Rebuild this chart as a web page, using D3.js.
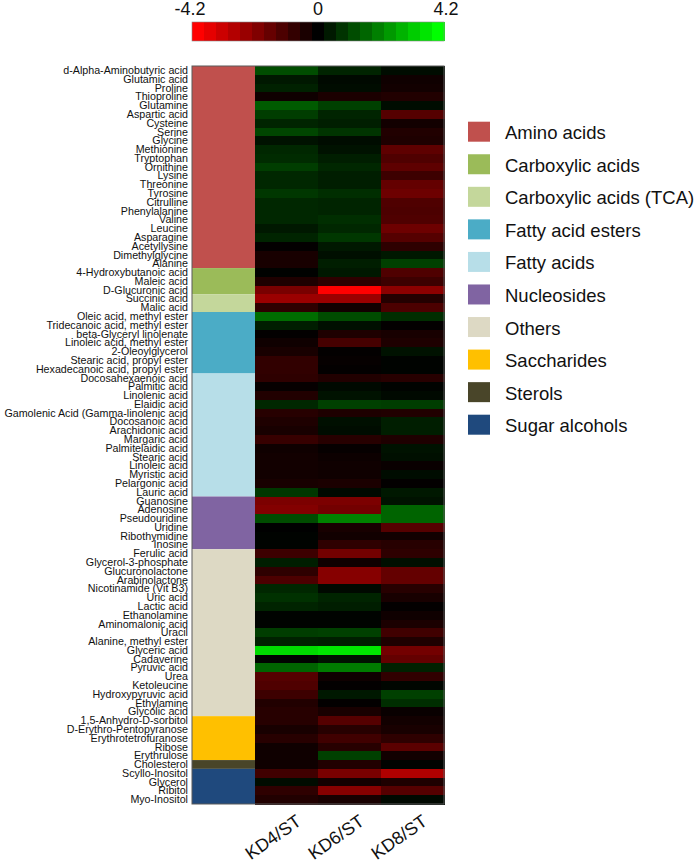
<!DOCTYPE html>
<html>
<head>
<meta charset="utf-8">
<script src="https://cdn.jsdelivr.net/npm/d3@7/dist/d3.min.js"></script>
<style>
  html, body { margin: 0; padding: 0; background: #fff; }
  svg { display: block; }
  text { font-family: "Liberation Sans", Arial, Helvetica, sans-serif; fill: #111; }
</style>
</head>
<body>
<svg id="chart" width="697" height="863"></svg>
<script>
// ---------------- data ----------------
const metabolites = [
  "d-Alpha-Aminobutyric acid","Glutamic acid","Proline","Thioproline","Glutamine","Aspartic acid",
  "Cysteine","Serine","Glycine","Methionine","Tryptophan","Ornithine","Lysine","Threonine","Tyrosine",
  "Citrulline","Phenylalanine","Valine","Leucine","Asparagine","Acetyllysine","Dimethylglycine","Alanine",
  "4-Hydroxybutanoic acid","Maleic acid","D-Glucuronic acid",
  "Succinic acid","Malic acid",
  "Oleic acid, methyl ester","Tridecanoic acid, methyl ester","beta-Glyceryl linolenate",
  "Linoleic acid, methyl ester","2-Oleoylglycerol","Stearic acid, propyl ester","Hexadecanoic acid, propyl ester",
  "Docosahexaenoic acid","Palmitic acid","Linolenic acid","Elaidic acid","Gamolenic Acid (Gamma-linolenic acid",
  "Docosanoic acid","Arachidonic acid","Margaric acid","Palmitelaidic acid","Stearic acid","Linoleic acid",
  "Myristic acid","Pelargonic acid","Lauric acid",
  "Guanosine","Adenosine","Pseudouridine","Uridine","Ribothymidine","Inosine",
  "Ferulic acid","Glycerol-3-phosphate","Glucuronolactone","Arabinolactone","Nicotinamide (Vit B3)",
  "Uric acid","Lactic acid","Ethanolamine","Aminomalonic acid","Uracil","Alanine, methyl ester",
  "Glyceric acid","Cadaverine","Pyruvic acid","Urea","Ketoleucine","Hydroxypyruvic acid","Ethylamine","Glycolic acid",
  "1,5-Anhydro-D-sorbitol","D-Erythro-Pentopyranose","Erythrotetrofuranose","Ribose","Erythrulose",
  "Cholesterol",
  "Scyllo-Inositol","Glycerol","Ribitol","Myo-Inositol"
];
const classNames = ["Amino acids","Carboxylic acids","Carboxylic acids (TCA)","Fatty acid esters","Fatty acids",
  "Nucleosides","Others","Saccharides","Sterols","Sugar alcohols"];
const classCounts = [23, 3, 2, 7, 14, 6, 19, 5, 1, 4];
const classColors = ["#C0504D","#9BBB59","#C4D79B","#4BACC6","#B7DEE8","#8064A2","#DDD9C4","#FFC000","#494529","#1F497D"];

const seriesNames = ["KD4/ST","KD6/ST","KD8/ST"];
const kd4 = [1.26,0.4,0.55,-0.25,1.5,1.0,0.6,1.15,0.3,0.65,0.7,1.0,0.65,0.65,0.9,0.65,0.65,0.65,0.4,0.6,-0.05,-0.4,-0.4,
  0.03,-0.5,-2.0,-2.55,-0.75,
  1.8,0.5,-0.05,-0.25,-0.4,-0.8,-0.8,
  -0.75,-0.1,-0.55,0.65,-0.65,-0.5,-0.4,-0.9,-0.25,-0.3,-0.3,-0.3,-0.4,0.9,
  -2.05,-2.15,1.25,0.0,0.05,0.05,
  -1.0,0.5,-0.75,-1.25,0.65,0.8,0.6,0.05,0.05,1.0,0.55,3.6,0.05,1.65,-1.4,-1.3,-1.0,-0.55,-0.65,
  -0.65,-0.4,-0.65,-0.25,-0.25,-0.25,-1.05,0.2,-0.75,-0.55];
const kd6 = [0.6,0.15,0.2,-0.45,1.05,0.6,0.5,0.85,0.2,0.3,0.5,0.65,0.5,0.5,0.75,0.6,0.6,0.75,0.65,0.9,0.4,0.25,0.5,
  0.4,-0.75,-4.2,-2.55,-0.3,
  1.25,0.25,-0.5,-1.15,-0.05,-0.1,-0.05,
  -0.55,0.15,0.3,1.05,-0.5,0.25,0.2,-0.65,-0.1,-0.2,-0.25,-0.25,-0.45,0.15,
  -2.05,-1.9,2.15,-0.4,-0.3,-0.75,
  -1.9,-0.25,-2.2,-2.2,0.15,0.6,0.5,0.05,0.05,1.05,0.5,3.8,0.3,2.05,-0.25,-0.05,0.4,-0.05,-0.4,
  -1.4,-0.65,-1.05,-0.65,1.05,-0.55,-2.0,-0.3,-2.2,-0.4];
const kd8 = [0.2,-0.25,-0.3,-0.55,0.2,-1.4,-0.3,-0.55,-0.5,-1.55,-1.3,-1.55,-1.0,-1.65,-1.8,-1.3,-1.25,-1.3,-1.8,-1.4,-0.75,0.4,1.05,
  -1.3,-1.0,-2.3,-0.6,-1.25,
  0.75,-0.05,-0.4,-0.5,0.3,0.05,0.05,
  -0.65,0.05,0.15,1.0,-0.55,0.5,0.5,-0.5,0.3,0.25,-0.15,0.2,-0.05,0.4,
  0.3,1.65,1.65,-1.4,-0.3,-0.65,
  -0.75,0.25,-1.65,-1.65,-0.65,-0.4,-0.05,-0.25,-0.45,-1.05,-0.5,-1.9,-1.65,0.55,-0.8,0.1,1.05,0.75,-0.15,
  -0.3,-0.4,-0.75,-1.5,-0.3,0.05,-2.9,-0.5,-1.4,0.15];
const scaleTicks = [-4.2, 0, 4.2];

// ---------------- build ----------------
(function () {
const series = [kd4, kd6, kd8];
const groups = [];
let start = 0;
classCounts.forEach((n, i) => { groups.push({ name: classNames[i], first: start, last: start + n - 1 }); start += n; });

const svg = d3.select("#chart");
const x0 = 192, x1 = 444, y0 = 66, y1 = 804;

const x = d3.scaleBand().domain(["class"].concat(seriesNames)).range([x0, x1]);
const y = d3.scaleBand().domain(metabolites).range([y0, y1]);
const color = d3.scaleLinear().domain([-4.2, 0, 4.2]).range(["#ff0000", "#000000", "#00ff00"]).clamp(true);
const classColor = d3.scaleOrdinal().domain(classNames).range(classColors);

// class column (one block per class)
svg.append("g").selectAll("rect").data(groups).join("rect")
  .attr("x", x("class")).attr("width", x.bandwidth())
  .attr("y", d => y(metabolites[d.first]))
  .attr("height", d => y(metabolites[d.last]) + y.bandwidth() - y(metabolites[d.first]))
  .attr("fill", d => classColor(d.name));

// heat cells
const cells = [];
seriesNames.forEach((s, j) => metabolites.forEach((m, i) => cells.push({ s, m, v: series[j][i] })));
svg.append("g").attr("shape-rendering", "crispEdges").selectAll("rect").data(cells).join("rect")
  .attr("x", d => x(d.s)).attr("width", x.bandwidth() + 0.5)
  .attr("y", d => y(d.m)).attr("height", y.bandwidth() + 0.5)
  .attr("fill", d => color(d.v));

// border
svg.append("rect").attr("x", x0).attr("y", y0).attr("width", x1 - x0).attr("height", y1 - y0)
  .attr("fill", "none").attr("stroke", "#5a5a5a").attr("stroke-width", 1);

// row labels (axis)
const yAxis = d3.axisLeft(y).tickSize(0).tickPadding(4);
const gy = svg.append("g").attr("transform", `translate(${x0},0)`).call(yAxis);
gy.select(".domain").remove();
gy.selectAll("text").style("font-size", "10.7px").style("font-family", '"Liberation Sans", Arial, sans-serif')
  .attr("fill", "#000").attr("dy", "0.34em");

// column labels
svg.append("g").selectAll("text").data(seriesNames).join("text")
  .attr("transform", d => `translate(${x(d) + x.bandwidth() / 2 + 16},824) rotate(-35)`)
  .attr("text-anchor", "end")
  .style("font-size", "18px")
  .text(d => d);

// color bar
const nSteps = 21;
const steps = d3.range(nSteps).map(i => -4.2 + 8.4 * i / (nSteps - 1));
const cb = d3.scaleLinear().domain([-4.2, 4.2]).range([x0, x1]);
const stepW = (x1 - x0) / nSteps;
svg.append("g").attr("shape-rendering", "crispEdges").selectAll("rect").data(steps).join("rect")
  .attr("x", (d, i) => x0 + i * stepW).attr("width", stepW + 0.5)
  .attr("y", 22).attr("height", 19)
  .attr("fill", d => color(d));
svg.append("rect").attr("x", x0).attr("y", 22).attr("width", x1 - x0).attr("height", 19)
  .attr("fill", "none").attr("stroke", "#888").attr("stroke-width", 0.6);
svg.append("g").selectAll("text").data(scaleTicks).join("text")
  .attr("x", d => cb(d) + (d > 0 ? 2 : d < 0 ? -2 : 0)).attr("y", 15)
  .attr("text-anchor", "middle").style("font-size", "18px")
  .text(d => d === 0 ? "0" : d3.format(".1f")(d).replace("−", "-"));

// legend
const legY = d3.scaleLinear().domain([0, classNames.length - 1]).range([121.7, 414.7]);
const leg = svg.append("g").selectAll("g").data(classNames).join("g")
  .attr("transform", (d, i) => `translate(468,${legY(i)})`);
leg.append("rect").attr("width", 22).attr("height", 20).attr("fill", d => classColor(d));
leg.append("text").attr("x", 37).attr("y", 17.5).style("font-size", "18.5px").text(d => d);
})();
</script>
</body>
</html>
